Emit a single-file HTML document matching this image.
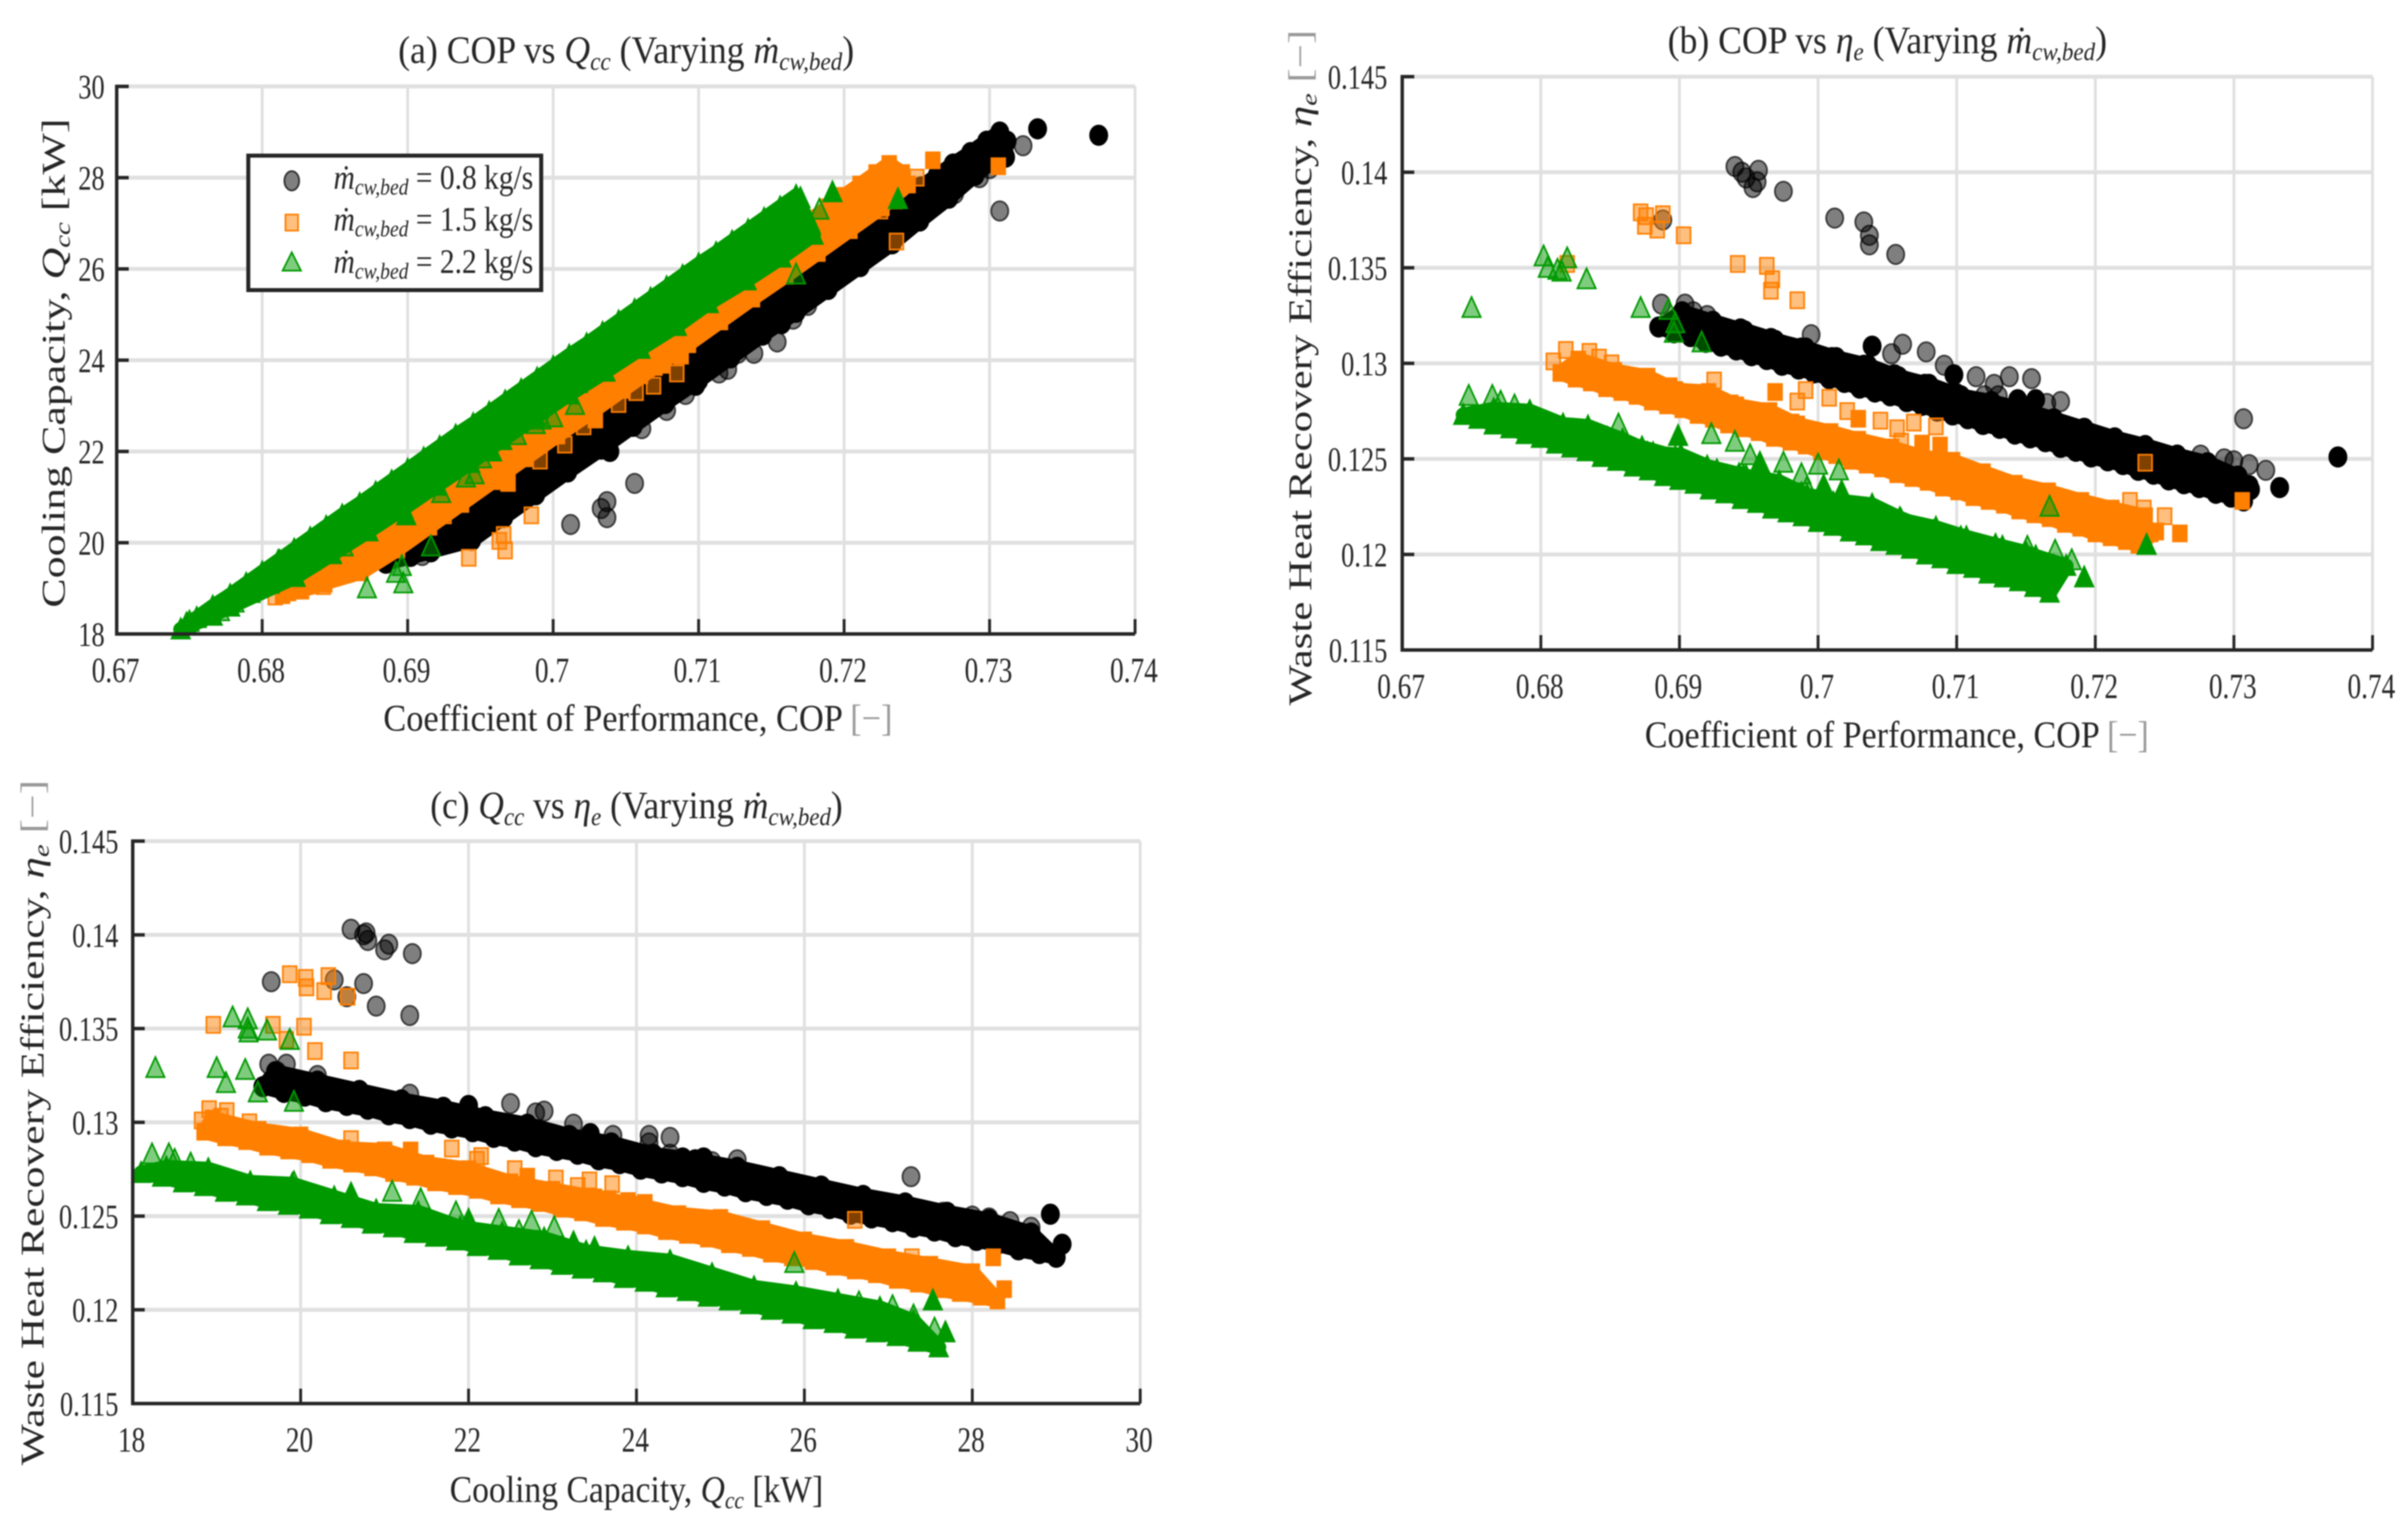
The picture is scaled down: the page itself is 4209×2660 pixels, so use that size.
<!DOCTYPE html>
<html lang="en">
<head>
<meta charset="utf-8">
<title>COP, cooling capacity and waste heat recovery efficiency</title>
<style>
html,body{margin:0;padding:0;background:#fff;width:4209px;height:2660px;overflow:hidden}
svg{display:block;filter:blur(1px)}
text{font-family:"Liberation Serif","DejaVu Serif",serif;fill:#262626;text-rendering:geometricPrecision}
.it{font-style:italic}
.gray{fill:#9a9a9a}
</style>
</head>
<body>
<svg id="figure" xmlns="http://www.w3.org/2000/svg" width="4209" height="2660" viewBox="0 0 4209 2660">
<rect x="0" y="0" width="4209" height="2660" fill="#fff"/>
<g id="panel-a"></g>
<g id="panel-b"></g>
<g id="panel-c"></g>

<text data-x="696" data-y="110" data-w="797" font-size="68">(a) COP vs <tspan class="it">Q</tspan><tspan class="it" font-size="44" dy="12">cc</tspan><tspan dy="-12"> (Varying </tspan><tspan class="it">ṁ</tspan><tspan class="it" font-size="44" dy="12">cw,bed</tspan><tspan dy="-12">)</tspan></text>
<text data-x="670" data-y="1277" data-w="890" font-size="66">Coefficient of Performance, COP <tspan class="gray">[−]</tspan></text>
<text data-x="113" data-y="1062" data-w="855" data-rot="-90" font-size="58">Cooling Capacity, <tspan class="it">Q</tspan><tspan class="it" font-size="38" dy="9">cc</tspan><tspan dy="-9"> [kW]</tspan></text>

<text data-x="2915" data-y="93" data-w="768" font-size="68">(b) COP vs <tspan class="it">η</tspan><tspan class="it" font-size="44" dy="12">e</tspan><tspan dy="-12"> (Varying </tspan><tspan class="it">ṁ</tspan><tspan class="it" font-size="44" dy="12">cw,bed</tspan><tspan dy="-12">)</tspan></text>
<text data-x="2875" data-y="1306" data-w="881" font-size="66">Coefficient of Performance, COP <tspan class="gray">[−]</tspan></text>
<text data-x="2292" data-y="1233" data-w="1181" data-rot="-90" font-size="58">Waste Heat Recovery Efficiency, <tspan class="it">η</tspan><tspan class="it" font-size="38" dy="9">e</tspan><tspan dy="-9"> </tspan><tspan class="gray">[−]</tspan></text>

<text data-x="752" data-y="1430" data-w="721" font-size="68">(c) <tspan class="it">Q</tspan><tspan class="it" font-size="44" dy="12">cc</tspan><tspan dy="-12"> vs </tspan><tspan class="it">η</tspan><tspan class="it" font-size="44" dy="12">e</tspan><tspan dy="-12"> (Varying </tspan><tspan class="it">ṁ</tspan><tspan class="it" font-size="44" dy="12">cw,bed</tspan><tspan dy="-12">)</tspan></text>
<text data-x="786" data-y="2625" data-w="653" font-size="66">Cooling Capacity, <tspan class="it">Q</tspan><tspan class="it" font-size="42" dy="11">cc</tspan><tspan dy="-11"> [kW]</tspan></text>
<text data-x="76" data-y="2561" data-w="1198" data-rot="-90" font-size="58">Waste Heat Recovery Efficiency, <tspan class="it">η</tspan><tspan class="it" font-size="38" dy="9">e</tspan><tspan dy="-9"> </tspan><tspan class="gray">[−]</tspan></text>

<g id="legend">
<rect x="434" y="272" width="512" height="235" fill="#fff" stroke="#262626" stroke-width="7"/>
<ellipse cx="510" cy="316" rx="13" ry="17" fill="rgba(0,0,0,.5)" stroke="rgba(0,0,0,.75)" stroke-width="3"/>
<rect x="499" y="375" width="22" height="28" fill="rgba(255,127,0,.5)" stroke="#ff7f00" stroke-width="3"/>
<polygon points="510,441 526,473 494,473" fill="rgba(0,153,0,.5)" stroke="#009900" stroke-width="3"/>
<text data-x="583" data-y="330" data-w="349" font-size="60"><tspan class="it">ṁ</tspan><tspan class="it" font-size="40" dy="10">cw,bed</tspan><tspan dy="-10"> = 0.8 kg/s</tspan></text>
<text data-x="583" data-y="403" data-w="349" font-size="60"><tspan class="it">ṁ</tspan><tspan class="it" font-size="40" dy="10">cw,bed</tspan><tspan dy="-10"> = 1.5 kg/s</tspan></text>
<text data-x="583" data-y="477" data-w="349" font-size="60"><tspan class="it">ṁ</tspan><tspan class="it" font-size="40" dy="10">cw,bed</tspan><tspan dy="-10"> = 2.2 kg/s</tspan></text>
</g>
</svg>

<script>
// Axis ticks
const copTicks=[.67,.68,.69,.7,.71,.72,.73,.74];
const copTickLabels=['0.67','0.68','0.69','0.7','0.71','0.72','0.73','0.74'];
const qTicks=[18,20,22,24,26,28,30];
const qTickLabels=['18','20','22','24','26','28','30'];
const etaTicks=[.115,.12,.125,.13,.135,.14,.145];
const etaTickLabels=['0.115','0.12','0.125','0.13','0.135','0.14','0.145'];

// m_cw,bed = 0.8 kg/s : solid-looking (overlapping) points, one line per row of the band, then isolated opaque points
const blackCopDense=[
.6885,.6896,.6908,.6919,.6930,.6941,.6952,.6963,.6974,.6986,.6997,.7008,.7019,.7030,.7041,.7052,.7064,.7075,.7086,.7097,.7108,.7119,.7131,.7142,.7153,.7164,.7175,.7186,.7197,.7209,.7220,.7231,.7242,.7253,.7264,.7275,.7287,.7298,.7307,
.6916,.6939,.6961,.6983,.7006,.7028,.7050,.7072,.7095,.7117,.7139,.7162,.7184,.7206,.7229,.7251,.7273,.7295,.7312,
.6944,.6966,.6988,.7010,.7033,.7055,.7077,.7100,.7122,.7144,.7167,.7189,.7211,.7233,.7252,.7272,.7290,.7310,
.6902,.6924,.6947,.6969,.6991,.7013,.7036,.7058,.7080,.7103,.7125,.7147,.7170,.7192,.7214,.7236,.7259,.7281,.7303,
.7375,.7333,.7039,.7098,.7144,.7157,.7311];
const blackQDense=[
19.55,19.8,20.05,20.3,20.55,20.8,21.05,21.3,21.55,21.8,22.05,22.3,22.55,22.8,23.05,23.3,23.55,23.8,24.05,24.3,24.55,24.8,25.05,25.3,25.55,25.8,26.05,26.3,26.55,26.8,27.05,27.3,27.55,27.8,28.05,28.3,28.55,28.8,29.0,
19.8,20.3,20.8,21.3,21.8,22.3,22.8,23.3,23.8,24.3,24.8,25.3,25.8,26.3,26.8,27.3,27.8,28.3,28.8,
20.05,20.55,21.05,21.55,22.05,22.55,23.05,23.55,24.05,24.55,25.05,25.55,26.05,26.55,27.05,27.55,28.05,28.55,
19.7,20.2,20.7,21.2,21.7,22.2,22.7,23.2,23.7,24.2,24.7,25.2,25.7,26.2,26.7,27.2,27.7,28.2,28.7,
28.93,29.07,22.0,23.45,24.55,24.8,28.45];
const blackEtaDense=[
.1319,.1316,.1314,.1311,.1309,.1307,.1304,.1302,.1299,.1297,.1295,.1292,.1290,.1287,.1285,.1283,.1280,.1278,.1275,.1273,.1271,.1268,.1266,.1263,.1261,.1259,.1256,.1254,.1251,.1249,.1247,.1244,.1242,.1239,.1237,.1235,.1232,.1230,.1228,
.1320,.1315,.1311,.1306,.1301,.1296,.1291,.1287,.1282,.1277,.1272,.1267,.1263,.1258,.1253,.1248,.1243,.1239,.1234,
.1318,.1313,.1308,.1303,.1299,.1294,.1289,.1284,.1279,.1275,.1270,.1265,.1260,.1255,.1251,.1246,.1241,.1236,
.1327,.1322,.1317,.1312,.1308,.1303,.1299,.1293,.1289,.1283,.1280,.1276,.1271,.1266,.1261,.1257,.1252,.1248,.1241,
.1251,.1235,.1309,.1294,.1281,.1281,.1236];
const blackRowCounts=[39,19,18,19];
// m_cw,bed = 0.8 kg/s : isolated translucent points
const blackCopSparse=[.6940,.6945,.6948,.6953,.6956,.6957,.6975,.7012,.7033,.7037,.7037,.7056,.6888,.7307,.7323,.6995,.7061,.7053,.7078,.7091,.7114,.7127,.7130,.7138,.7154,.6887,.6904,.6910,.6920,.7293,.7300,.7311,.7276,.7175,.7165,.7120];
const blackQSparse=[20.6,20.75,20.8,21.0,21.05,20.78,21.33,20.4,20.75,20.55,20.9,21.3,19.65,27.27,28.7,21.3,22.5,22.8,22.9,23.25,23.72,24.15,24.4,24.15,24.4,19.62,19.83,19.72,20.2,28.0,28.2,28.45,27.65,25.2,24.9,23.8];
const blackEtaSparse=[.1403,.1400,.1397,.1392,.1395,.1401,.1390,.1376,.1374,.1367,.1362,.1357,.1375,.1271,.1244,.1315,.1310,.1305,.1306,.1299,.1293,.1289,.1283,.1293,.1292,.1331,.1331,.1327,.1325,.1250,.1249,.1247,.1252,.1280,.1279,.1283];

// m_cw,bed = 1.5 kg/s
const orangeCopDense=[
.6814,.6825,.6836,.6847,.6858,.6869,.6880,.6891,.6902,.6913,.6924,.6935,.6946,.6957,.6968,.6980,.6991,.7002,.7013,.7024,.7035,.7046,.7057,.7068,.7079,.7090,.7101,.7112,.7123,.7134,.7145,.7156,.7167,.7178,.7189,.7200,.7211,.7222,.7231,
.6843,.6866,.6889,.6911,.6933,.6955,.6977,.7000,.7022,.7044,.7066,.7088,.7110,.7132,.7154,.7176,.7198,.7220,.7240,
.6868,.6893,.6915,.6937,.6959,.6981,.7003,.7026,.7048,.7070,.7093,.7115,.7137,.7160,.7182,.7204,.7226,.7244,
.6827,.6853,.6877,.6897,.6921,.6941,.6965,.6985,.7009,.7029,.7053,.7075,.7097,.7119,.7142,.7166,.7190,.7212,.7236,
.6969,.7029,.7075,.7088,.7306,.7261];
const orangeQDense=[
18.85,19.1,19.35,19.6,19.85,20.1,20.35,20.6,20.85,21.1,21.35,21.6,21.85,22.1,22.35,22.6,22.85,23.1,23.35,23.6,23.85,24.1,24.35,24.6,24.85,25.1,25.35,25.6,25.85,26.1,26.35,26.6,26.85,27.1,27.35,27.6,27.85,28.1,28.3,
19.1,19.6,20.1,20.6,21.1,21.6,22.1,22.6,23.1,23.6,24.1,24.6,25.1,25.6,26.1,26.6,27.1,27.6,28.1,
19.35,19.85,20.35,20.85,21.35,21.85,22.35,22.85,23.35,23.85,24.35,24.85,25.35,25.85,26.35,26.85,27.35,27.85,
18.95,19.5,20,20.5,21,21.5,22,22.5,23,23.5,24,24.5,25,25.5,26,26.5,27,27.5,28,
21.31,22.7,23.9,24.1,28.25,28.38];
const orangeEtaDense=[
.1295,.1292,.1290,.1287,.1285,.1283,.1280,.1278,.1276,.1273,.1271,.1268,.1266,.1264,.1261,.1259,.1257,.1254,.1252,.1249,.1247,.1245,.1242,.1240,.1238,.1235,.1233,.1230,.1228,.1226,.1223,.1221,.1219,.1216,.1214,.1211,.1209,.1207,.1205,
.1296,.1291,.1287,.1282,.1277,.1272,.1268,.1263,.1258,.1253,.1249,.1244,.1239,.1234,.1230,.1225,.1220,.1215,.1211,
.1293,.1288,.1283,.1279,.1274,.1269,.1264,.1260,.1255,.1250,.1245,.1241,.1236,.1231,.1226,.1222,.1217,.1212,
.1302,.1296,.1293,.1286,.1285,.1278,.1275,.1268,.1264,.1260,.1256,.1251,.1249,.1243,.1237,.1233,.1228,.1224,.1220,
.1285,.1271,.1258,.1257,.1228,.1211];
const orangeRowCounts=[39,19,18,19];
const orangeCopSparse=[.6872,.6875,.6876,.6884,.6888,.6903,.6942,.6963,.6966,.6967,.6985,.6819,.6818,.6835,.6842,.6851,.6809,.6925,.6991,.7008,.7021,.7045,.7069,.7085,.7057,.7060,.6985,.7236,.7250,.7225,.7235];
const orangeQSparse=[19.87,20.07,20.06,20.28,20.33,20.56,19.67,20.04,20.17,19.83,20.6,18.96,18.91,19.12,19.05,19.39,18.82,20.6,21.8,22.15,22.55,23.04,23.44,23.71,23.3,23.67,22.1,26.6,28.0,27.28,27.5];
const orangeEtaSparse=[.1379,.1372,.1377,.1370,.1378,.1367,.1352,.1351,.1338,.1344,.1333,.1352,.1307,.1306,.1303,.1300,.1301,.1291,.1286,.1282,.1275,.1270,.1269,.1267,.1266,.1259,.1280,.1248,.1220,.1228,.1224];

// m_cw,bed = 2.2 kg/s
const greenCopDense=[
.6744,.6755,.6766,.6778,.6789,.6800,.6811,.6822,.6833,.6844,.6855,.6867,.6878,.6889,.6900,.6911,.6922,.6933,.6945,.6956,.6967,.6978,.6989,.7000,.7011,.7023,.7034,.7045,.7056,.7067,.7078,.7089,.7100,.7112,.7123,.7134,.7145,.7156,.7167,
.6778,.6805,.6833,.6855,.6877,.6900,.6922,.6944,.6967,.6989,.7011,.7035,.7058,.7082,.7104,.7128,.7150,.7170,
.6823,.6848,.6873,.6897,.6920,.6943,.6965,.6988,.7011,.7036,.7060,.7085,.7107,.7133,.7157,.7179,
.6766,.6792,.6816,.6834,.6859,.6881,.6901,.6927,.6948,.6972,.6992,.7014,.7039,.7059,.7083,.7103,.7128,.7150,.7170,
.6899,.6958,.7004,.7017,.7237,.7192];
const greenQDense=[
18.1,18.35,18.6,18.85,19.1,19.35,19.6,19.85,20.1,20.35,20.6,20.85,21.1,21.35,21.6,21.85,22.1,22.35,22.6,22.85,23.1,23.35,23.6,23.85,24.1,24.35,24.6,24.85,25.1,25.35,25.6,25.85,26.1,26.35,26.6,26.85,27.1,27.35,27.6,
18.6,19.1,19.6,20.1,20.6,21.1,21.6,22.1,22.6,23.1,23.6,24.1,24.6,25.1,25.6,26.1,26.6,27.1,
19.25,19.75,20.25,20.75,21.25,21.75,22.25,22.75,23.25,23.75,24.25,24.75,25.25,25.75,26.25,26.75,
18.4,18.9,19.4,19.9,20.4,20.9,21.4,21.9,22.4,22.9,23.4,23.9,24.4,24.9,25.4,25.9,26.4,26.9,27.3,
20.6,22.0,23.25,23.5,27.53,27.68];
const greenEtaDense=[
.1273,.1271,.1268,.1266,.1263,.1261,.1258,.1256,.1254,.1251,.1249,.1246,.1244,.1241,.1239,.1237,.1234,.1232,.1229,.1227,.1224,.1222,.1220,.1217,.1215,.1212,.1210,.1207,.1205,.1203,.1200,.1198,.1195,.1193,.1190,.1188,.1186,.1183,.1180,
.1272,.1267,.1262,.1258,.1253,.1248,.1243,.1238,.1233,.1228,.1224,.1219,.1214,.1209,.1204,.1199,.1194,.1190,
.1265,.1261,.1256,.1251,.1246,.1242,.1237,.1232,.1227,.1222,.1218,.1214,.1209,.1204,.1199,.1194,
.1276,.1275,.1268,.1267,.1260,.1253,.1252,.1244,.1241,.1238,.1231,.1228,.1226,.1219,.1212,.1209,.1205,.1201,.1194,
.1262,.1248,.1236,.1233,.1205,.1188];
const greenRowCounts=[39,18,16,19];
const greenCopSparse=[.6750,.6802,.6805,.6815,.6819,.6812,.6833,.6872,.6892,.6897,.6896,.6916,.6748,.6765,.6771,.6781,.6856,.6923,.6940,.6951,.6975,.6988,.7000,.7015,.6992,.6946,.7167,.7151,.7171,.7183,.7170];
const greenQSparse=[18.27,19.19,19.37,19.38,19.37,19.6,19.87,19.0,19.34,19.11,19.49,19.92,18.23,18.43,18.5,18.69,19.92,21.09,21.43,21.85,22.36,22.6,22.75,23.02,22.7,21.5,25.88,26.65,27.05,27.3,27.55];
const greenEtaSparse=[.1329,.1356,.1350,.1348,.1355,.1349,.1344,.1329,.1328,.1321,.1316,.1311,.1283,.1283,.1280,.1278,.1268,.1263,.1259,.1252,.1248,.1242,.1247,.1244,.1235,.1241,.1225,.1204,.1202,.1197,.1190];

const SVGNS='http://www.w3.org/2000/svg';
function mk(parent,tag,attrs){
  const el=document.createElementNS(SVGNS,tag);
  for(const k in attrs) el.setAttribute(k,attrs[k]);
  parent.appendChild(el);
  return el;
}
function linear(d0,d1,r0,r1){return v=>r0+(v-d0)/(d1-d0)*(r1-r0);}

function marker(parent,kind,px,py,opaque){
  let el;
  if(kind==='circle'){
    el=mk(parent,'ellipse',{cx:px,cy:py,rx:15,ry:17,fill:opaque?'#000':'rgba(0,0,0,.5)',stroke:opaque?'#000':'rgba(0,0,0,.7)','stroke-width':3});
    
    
  }else if(kind==='square'){
    el=mk(parent,'rect',{x:px-12,y:py-14,width:24,height:28,fill:opaque?'#ff7f00':'rgba(255,127,0,.5)',stroke:'#ff7f00','stroke-width':3});
    
    
  }else{
    el=mk(parent,'polygon',{points:(px)+','+(py-19)+' '+(px+16)+','+(py+16)+' '+(px-16)+','+(py+16),fill:opaque?'#009900':'rgba(0,153,0,.5)',stroke:'#009900','stroke-width':3});
    
    
  }
}

// Solid envelope between row r0 and row r1 of a series' dense points
function band(parent,color,pxs,pys,rows,r0,r1){
  const start=n=>rows.slice(0,n).reduce((a,b)=>a+b,0);
  const pts=[];
  for(let i=start(r0);i<start(r0+1);i++) pts.push(pxs[i]+','+pys[i]);
  for(let i=start(r1+1)-1;i>=start(r1);i--) pts.push(pxs[i]+','+pys[i]);
  const el=mk(parent,'polygon',{points:pts.join(' '),fill:color,stroke:color,'stroke-width':26,'stroke-linejoin':'round'});
  
  
}

const kinds=['circle','square','triangle'];
const bandColors=['#000','#ff7f00','#009900'];
const rowCounts=[blackRowCounts,orangeRowCounts,greenRowCounts];

function drawPanel(id,box,xT,xL,yT,yL,xDense,yDense,xSparse,ySparse){
  const g=document.getElementById(id);
  const X=linear(xT[0],xT[xT.length-1],box.l,box.r);
  const Y=linear(yT[0],yT[yT.length-1],box.b,box.t);
  xT.forEach(v=>{
    const line=mk(g,'line',{x1:X(v),x2:X(v),y1:box.t,y2:box.b,stroke:'#e0e0e0','stroke-width':5});
    
    
  });
  yT.forEach(v=>{
    const line=mk(g,'line',{x1:box.l,x2:box.r,y1:Y(v),y2:Y(v),stroke:'#e0e0e0','stroke-width':7});
    
    
  });
  kinds.forEach((kind,s)=>{
    xSparse[s].forEach((v,i)=>marker(g,kind,X(v),Y(ySparse[s][i]),false));
    const pxs=xDense[s].map(X), pys=yDense[s].map(Y);
    band(g,bandColors[s],pxs,pys,rowCounts[s],0,2);
    band(g,bandColors[s],pxs,pys,rowCounts[s],0,3);
    band(g,bandColors[s],pxs,pys,rowCounts[s],0,1);
    pxs.forEach((px,i)=>marker(g,kind,px,pys[i],true));
  });
  const yAxis=mk(g,'line',{x1:box.l,x2:box.l,y1:box.t-3,y2:box.b+3,stroke:'#262626','stroke-width':6});
  
  
  const xAxis=mk(g,'line',{x1:box.l,x2:box.r,y1:box.b,y2:box.b,stroke:'#262626','stroke-width':6});
  
  
  xT.forEach((v,i)=>{
    const tick=mk(g,'line',{x1:X(v),x2:X(v),y1:box.b,y2:box.b-26,stroke:'#262626','stroke-width':5});
    
    
    const label=mk(g,'text',{'font-size':62,'text-anchor':'middle',transform:'translate('+(X(v)-2)+','+(box.b+84)+') scale(.77,1)'});
    
    
    label.textContent=xL[i];
  });
  yT.forEach((v,i)=>{
    const tick=mk(g,'line',{x1:box.l,x2:box.l+21,y1:Y(v),y2:Y(v),stroke:'#262626','stroke-width':6});
    
    
    const label=mk(g,'text',{'font-size':60,'text-anchor':'end',transform:'translate('+(box.l-box.gap)+','+(Y(v)+21)+') scale(.77,1)'});
    
    
    label.textContent=yL[i];
  });
}

const copDense=[blackCopDense,orangeCopDense,greenCopDense];
const qDense=[blackQDense,orangeQDense,greenQDense];
const etaDense=[blackEtaDense,orangeEtaDense,greenEtaDense];
const copSparse=[blackCopSparse,orangeCopSparse,greenCopSparse];
const qSparse=[blackQSparse,orangeQSparse,greenQSparse];
const etaSparse=[blackEtaSparse,orangeEtaSparse,greenEtaSparse];

drawPanel('panel-a',{l:204,r:1984,t:151,b:1108,gap:21},copTicks,copTickLabels,qTicks,qTickLabels,copDense,qDense,copSparse,qSparse);
drawPanel('panel-b',{l:2451,r:4147,t:134,b:1136,gap:26},copTicks,copTickLabels,etaTicks,etaTickLabels,copDense,etaDense,copSparse,etaSparse);
drawPanel('panel-c',{l:232,r:1993,t:1470,b:2453,gap:25},qTicks,qTickLabels,etaTicks,etaTickLabels,qDense,etaDense,qSparse,etaSparse);

// Fit the static titles and legend entries to the condensed widths of the reference
document.querySelectorAll('text[data-w]').forEach(t=>{
  const s=(+t.getAttribute('data-w'))/t.getComputedTextLength();
  const rot=t.getAttribute('data-rot')||0;
  t.setAttribute('transform','translate('+t.getAttribute('data-x')+','+t.getAttribute('data-y')+') rotate('+rot+') scale('+s+',1)');
});
</script>
</body>
</html>
